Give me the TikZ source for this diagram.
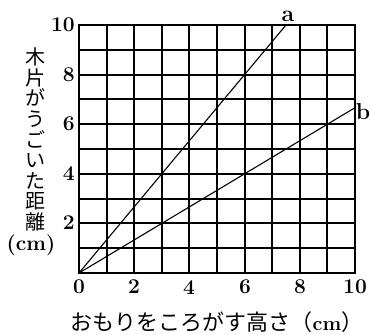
\documentclass[tikz,border=0pt]{standalone}
\usepackage{fontspec}
\newfontfamily\jp{Noto Sans CJK JP}
\tikzset{
  gridline/.style={line width=1.7bp, black},
  frameline/.style={line width=1.8bp, black},
  dataline/.style={line width=1.1bp, black},
  numlab/.style={inner sep=0pt, font=\fontsize{21bp}{24bp}\selectfont\bfseries},
  curvelab/.style={inner sep=0pt, font=\fontsize{23bp}{26bp}\selectfont\bfseries},
  jplab/.style={inner sep=0pt, font=\jp\fontsize{20bp}{20.6bp}\selectfont},
}
\begin{document}
\begin{tikzpicture}[x=1bp,y=1bp]
\useasboundingbox (0,0) rectangle (370,335);
% grid lines, snapped to whole pixels
\foreach \xp in {107,134,162,189,217,245,272,300,327}
  \draw[gridline] (\xp,62) -- (\xp,310);
\foreach \yp in {87,112,136,161,186,211,236,260,285}
  \draw[gridline] (79,\yp) -- (355,\yp);
\draw[frameline] (79,62) rectangle (355,310);
\coordinate (O) at (79,62);
\coordinate (A) at (286,310);
\coordinate (B) at (355,227.3);
\draw[dataline] (O) -- (A);
\draw[dataline] (O) -- (B);
% x tick labels
\foreach \v/\xp in {0/79,2/134,4/189,6/245,8/300,10/355}
  \node[numlab, anchor=north] (x\v) at (\xp,55) {\v};
% y tick labels
\foreach \v/\yp in {2/112,4/161,6/211,8/260,10/310}
  \node[numlab, anchor=east] (y\v) at (75,\yp) {\v};
\node[curvelab] (la) at (288,319) {a};
\node[curvelab] (lb) at (363,223.5) {b};
\node[jplab, align=center] (ylab) at (35,195.5) {木\\片\\が\\う\\ご\\い\\た\\距\\離};
\node[numlab] (yunit) at (31,90) {(cm)};
\node[inner sep=0pt, anchor=west] (xlab) at (70.5,13)
  {\jp\fontsize{22bp}{24bp}\selectfont おもりをころがす高さ（{\rmfamily\bfseries\fontsize{20bp}{24bp}\selectfont cm}）};
\end{tikzpicture}
\end{document}
